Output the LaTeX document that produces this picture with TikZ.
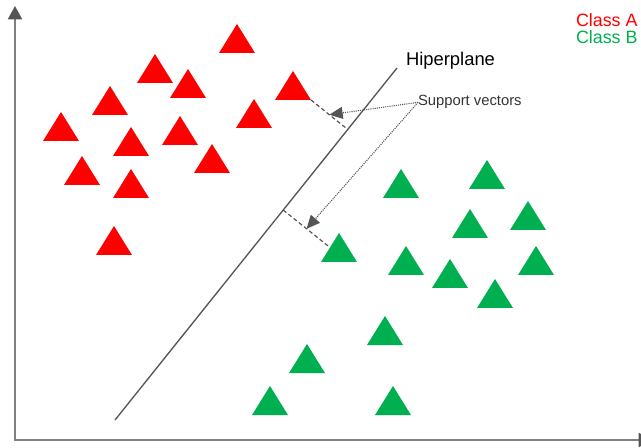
\documentclass[tikz,border=0pt]{standalone}
\usepackage{fontspec}
\setmainfont{Liberation Sans}
\usetikzlibrary{shapes.geometric,arrows.meta,calc}

\definecolor{classA}{HTML}{FF0000}
\definecolor{classB}{HTML}{00B050}
\definecolor{axisgray}{HTML}{808080}
\definecolor{linegray}{HTML}{555555}

\begin{document}
\begin{tikzpicture}[x=0.75pt, y=-0.75pt,
    every node/.style={inner sep=0pt, outer sep=0pt},
    tri/.style={isosceles triangle, isosceles triangle apex angle=64,
        isosceles triangle stretches, shape border rotate=90,
        minimum width=27pt, minimum height=21.75pt, anchor=apex},
    redtri/.style={tri, fill=classA},
    greentri/.style={tri, fill=classB},
    txt/.style={font=\fontsize{13.8pt}{16pt}\selectfont, anchor=base west},
    marginline/.style={draw=linegray, line width=0.9pt, dash pattern=on 3pt off 2pt},
    svarrow/.style={draw=linegray, line width=0.8pt, dash pattern=on 0.8pt off 0.8pt,
        -{Triangle[length=10pt, width=9pt, color=linegray]}}]
        \useasboundingbox (0,0) rectangle (641,448);

        % Axes
        \coordinate (O) at (15,440);
        \coordinate (ytop) at (15,6);
        \coordinate (xend) at (652,440);
        \draw[axisgray, line width=1.5pt,
            {Triangle[length=10pt, width=10.5pt, color=linegray]}-{Triangle[length=10pt, width=10.5pt, color=linegray]}]
            (ytop) -- (O) -- (xend);

        % Class A
        \node[redtri] (r1) at (237,24) {};
        \node[redtri] (r2) at (155,54) {};
        \node[redtri] (r3) at (188,69) {};
        \node[redtri] (r4) at (293,71) {};
        \node[redtri] (r5) at (110,86) {};
        \node[redtri] (r6) at (254,99) {};
        \node[redtri] (r7) at (61,112) {};
        \node[redtri] (r8) at (131,127) {};
        \node[redtri] (r9) at (180,116) {};
        \node[redtri] (r10) at (212,144) {};
        \node[redtri] (r11) at (82,156) {};
        \node[redtri] (r12) at (131,169) {};
        \node[redtri] (r13) at (114,226) {};

        % Class B
        \node[greentri] (g1) at (401,169) {};
        \node[greentri] (g2) at (487,160) {};
        \node[greentri] (g3) at (470,209) {};
        \node[greentri] (g4) at (528,201) {};
        \node[greentri] (g5) at (339,233) {};
        \node[greentri] (g6) at (406,246) {};
        \node[greentri] (g7) at (450,259) {};
        \node[greentri] (g8) at (536,246) {};
        \node[greentri] (g9) at (495,279) {};
        \node[greentri] (g10) at (385,316) {};
        \node[greentri] (g11) at (307,344) {};
        \node[greentri] (g12) at (270,386) {};
        \node[greentri] (g13) at (393,386) {};

        % Hyperplane
        \coordinate (h1) at (115,420);
        \coordinate (h2) at (397,68);
        \draw[linegray, line width=1pt] (h1) -- (h2);

        % Margins
        \coordinate (f1) at ($(h1)!(r4.right corner)!(h2)$);
        \coordinate (f2) at ($(h1)!(g5.left side)!(h2)$);
        \draw[marginline] (r4.right corner) -- (f1);
        \draw[marginline] (f2) -- (g5.left side);
        \coordinate (m1) at ($(r4.right corner)!0.5!(f1)$);
        \coordinate (m2) at ($(f2)!0.5!(g5.left side)$);

        % Labels
        \node[txt] (hp) at (406,66) {Hiperplane};
        \node[txt, font=\fontsize{11.1pt}{13pt}\selectfont, text=black!80] (sv) at (418,106) {Support vectors};
        \node[txt, font=\fontsize{13.4pt}{16pt}\selectfont, text=classA] (ca) at (576,27) {Class A};
        \node[txt, font=\fontsize{13.4pt}{16pt}\selectfont, text=classB] (cb) at (576,44) {Class B};

        % Arrows
        \draw[svarrow] (sv.west) -- (m1);
        \draw[svarrow] (sv.west) -- (m2);
    \end{tikzpicture}
\end{document}
